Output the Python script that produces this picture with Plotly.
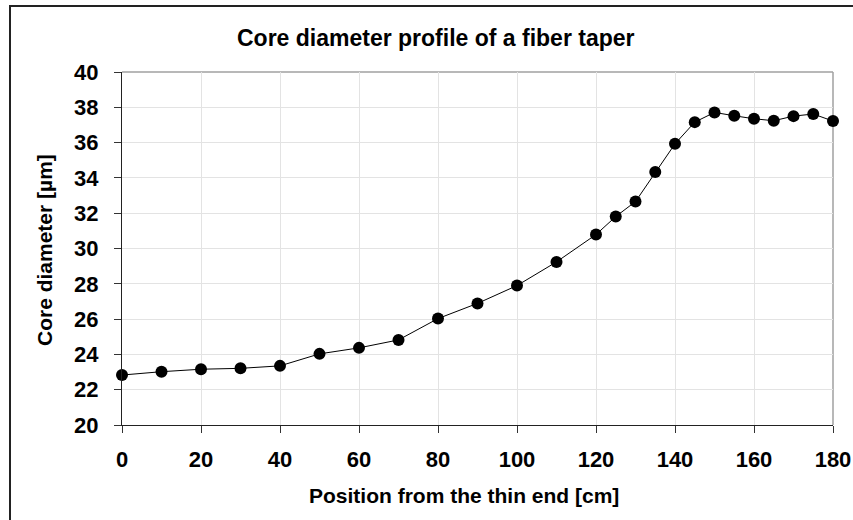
import plotly.graph_objects as go

position_cm = [0, 10, 20, 30, 40, 50, 60, 70, 80, 90, 100, 110, 120, 125, 130, 135,
               140, 145, 150, 155, 160, 165, 170, 175, 180]
core_diameter_um = [22.83, 23.02, 23.16, 23.21, 23.35, 24.03, 24.37, 24.82, 26.03, 26.89,
                    27.90, 29.24, 30.79, 31.81, 32.66, 34.33, 35.93, 37.16, 37.71, 37.52,
                    37.35, 37.24, 37.50, 37.62, 37.22]
x_ticks = [0, 20, 40, 60, 80, 100, 120, 140, 160, 180]
y_ticks = [20, 22, 24, 26, 28, 30, 32, 34, 36, 38, 40]

W, H = 853, 520
L, R, T, B = 122, 20, 72, 95
pw, ph = W - L - R, H - T - B

def px(x):
    return (x - L) / pw

def py(y):
    return (H - B - y) / ph

FONT = "Liberation Sans, Arial, sans-serif"

fig = go.Figure()
fig.add_trace(go.Scatter(
    x=position_cm, y=core_diameter_um, mode="lines+markers",
    line=dict(color="black", width=1),
    marker=dict(color="black", size=12),
    showlegend=False, cliponaxis=False,
))

axis_common = dict(
    showgrid=True, gridcolor="#e3e3e3", gridwidth=1,
    ticks="outside", ticklen=7, tickcolor="#333", tickwidth=1,
    showline=True, linecolor="#222", linewidth=1,
    tickfont=dict(family=FONT, size=22, color="black", weight="bold"),
    zeroline=False, automargin=False,
)

fig.update_xaxes(range=[0, 180], tickvals=x_ticks, ticklabelstandoff=8, **axis_common)
fig.update_yaxes(range=[20, 40], tickvals=y_ticks, ticklabelstandoff=11, **axis_common)

shapes = [
    dict(type="line", xref="paper", yref="paper", x0=0, x1=1, y0=1, y1=1,
         line=dict(color="#a0a0a0", width=1.5), layer="below"),
    dict(type="line", xref="paper", yref="paper", x0=1, x1=1, y0=0, y1=1,
         line=dict(color="#a0a0a0", width=1.5), layer="below"),
    dict(type="rect", xref="paper", yref="paper",
         x0=px(10), x1=px(900), y0=py(560), y1=py(6),
         line=dict(color="#222", width=2), layer="above"),
]

annotations = [
    dict(text="Core diameter profile of a fiber taper", xref="paper", yref="paper",
         x=px(436), y=py(38), xanchor="center", yanchor="middle", showarrow=False,
         font=dict(family=FONT, size=23, color="black", weight="bold")),
    dict(text="Position from the thin end [cm]", xref="paper", yref="paper",
         x=px(464), y=py(496), xanchor="center", yanchor="middle", showarrow=False,
         font=dict(family=FONT, size=21, color="black", weight="bold")),
    dict(text="Core diameter [µm]", xref="paper", yref="paper",
         x=px(44), y=py(250), xanchor="center", yanchor="middle", showarrow=False,
         textangle=-90,
         font=dict(family=FONT, size=21, color="black", weight="bold")),
]

fig.update_layout(
    width=W, height=H,
    margin=dict(l=L, r=R, t=T, b=B),
    paper_bgcolor="white", plot_bgcolor="white",
    shapes=shapes, annotations=annotations,
)

fig.write_html("out.html")
